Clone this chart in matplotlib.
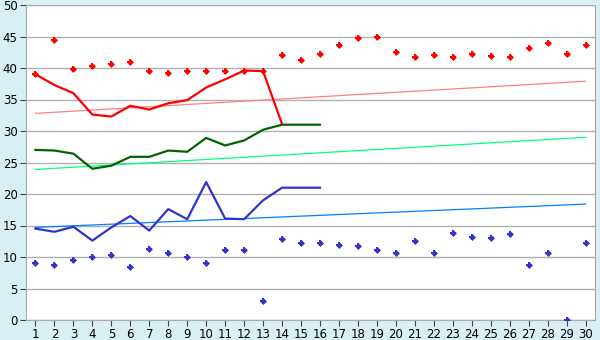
import matplotlib.pyplot as plt
import numpy as np

days = list(range(1, 31))

# точки (верхние красные и нижние синие)
red_points = [39.0, 44.4, 39.8, 40.3, 40.6, 40.9, 39.5, 39.2, 39.6, 39.5,
              39.5, 39.6, 39.5, 42.0, 41.2, 42.2, 43.6, 44.7, 45.0, 42.6,
              41.7, 42.0, 41.7, 42.3, 41.9, 41.7, 43.1, 43.9, 42.2, 43.6]
blue_points = [9.0, 8.8, 9.6, 10.0, 10.3, 8.4, 11.2, 10.6, 10.0, 9.0,
               11.1, 11.1, 3.0, 12.8, 12.2, 12.2, 11.9, 11.7, 11.1, 10.6,
               12.5, 10.6, 13.8, 13.1, 13.0, 13.6, 8.7, 10.6, 0.0, 12.2]

# линии
red_line = [39.0, 37.3, 36.0, 32.6, 32.3, 34.0, 33.4, 34.4, 34.9, 36.9,
            38.2, 39.6, 39.5, 31.1]
green_line = [27.0, 26.9, 26.4, 24.0, 24.5, 25.9, 25.9, 26.9, 26.7, 28.9,
              27.7, 28.5, 30.2, 31.0, 31.0, 31.0]
blue_line = [14.5, 14.0, 14.8, 12.6, 14.7, 16.5, 14.2, 17.6, 16.0, 21.9,
             16.1, 16.0, 19.0, 21.0, 21.0, 21.0]

# линии тренда (значения в день 1 и день 30)
trend_days = [1, 30]
red_trend = [32.8, 37.9]
green_trend = [23.9, 29.0]
blue_trend = [14.7, 18.4]

fig = plt.figure(figsize=(6, 3.4), dpi=100, facecolor='#d9eff6')
ax = fig.add_axes([26 / 600, 20 / 340, 569 / 600, 315 / 340])
ax.set_facecolor('white')

ax.plot(trend_days, red_trend, color='#ff8080', lw=0.9, zorder=2)
ax.plot(trend_days, green_trend, color='#00ff7f', lw=0.9, zorder=2)
ax.plot(trend_days, blue_trend, color='#0080ff', lw=0.9, zorder=2)

ax.plot(days[:len(red_line)], red_line, color='#ff0000', lw=1.6, zorder=3)
ax.plot(days[:len(green_line)], green_line, color='#006400', lw=1.6, zorder=3)
ax.plot(days[:len(blue_line)], blue_line, color='#3333cc', lw=1.6, zorder=3)

# маркер: крестик + ромб
for pts, c in [(red_points, '#ff0000'), (blue_points, '#3333cc')]:
    ax.plot(days, pts, 'P', color=c, ms=5, mew=0, ls='none', zorder=4)
    ax.plot(days, pts, 'D', color=c, ms=3.5, mew=0, ls='none', zorder=4)

ax.set_xlim(0.5, 30.5)
ax.set_ylim(0, 50)
ax.set_xticks(days)
ax.set_yticks(np.arange(0, 51, 5))
ax.yaxis.grid(True, color='#b0b0b0', lw=1)
ax.set_axisbelow(True)
for s in ax.spines.values():
    s.set_color('#a8a8a8')
ax.tick_params(axis='both', labelsize=8.5, length=4, color='#404040', pad=2)

fig.savefig('out.png', dpi=100, facecolor=fig.get_facecolor())
